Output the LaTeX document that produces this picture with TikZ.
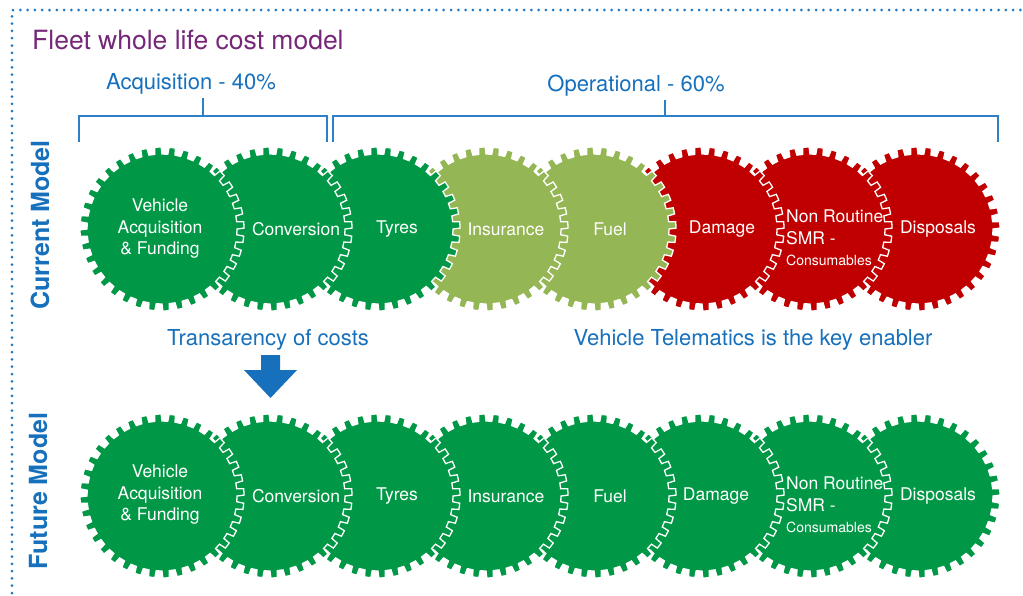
\documentclass[tikz,border=0pt]{standalone}
\usepackage{fontspec}
\setmainfont{TeX Gyre Heros}
\definecolor{gearG}{RGB}{0,152,70}
\definecolor{gearL}{RGB}{149,182,84}
\definecolor{gearR}{RGB}{192,0,0}
\definecolor{txtB}{RGB}{22,112,188}
\definecolor{brkB}{RGB}{45,128,198}
\definecolor{ttlP}{RGB}{118,40,120}
\definecolor{dotB}{RGB}{30,120,195}
\newcommand{\mygear}[3]{%
  \begin{scope}[shift={(#1,#2)}]
    \filldraw[fill=#3, draw=white, line width=1.3pt] (0:75pt)
      \foreach \a in {0,10,...,350} {
        -- (\a+0.6:82pt) arc[start angle=\a+0.6, delta angle=4.4, radius=82pt]
        -- ({\a+5.6}:75pt) arc[start angle=\a+5.6, delta angle=4.4, radius=75pt]
      } -- cycle;
  \end{scope}}
\begin{document}
\begin{tikzpicture}[x=1pt,y=-1pt,
  gtxt/.style={text=white, font=\fontsize{17.5}{21.5}\selectfont, align=center, inner sep=0pt},
  gtxtl/.style={gtxt, align=left, anchor=west},
  btxt/.style={text=txtB, font=\fontsize{22}{26}\selectfont, inner sep=0pt},
  side/.style={text=txtB, font=\fontsize{25}{30}\selectfont\bfseries, rotate=90, inner sep=0pt},
  brk/.style={draw=brkB, line width=1.8pt},
  dotline/.style={draw=dotB, line width=3pt, line cap=round, dash pattern=on 0pt off 7.3pt}]
\useasboundingbox (0,0) rectangle (1023,595);
% border
\draw[dotline] (12,593) -- (12,10) -- (1023,10);
% title
\node[text=ttlP, font=\fontsize{26.5}{30}\selectfont, anchor=west, inner sep=0pt] (title) at (32,40) {Fleet whole life cost model};
% brackets
\node[btxt] (acq) at (191,84) {Acquisition - 40\%};
\node[btxt] (op) at (636,86) {Operational - 60\%};
\draw[brk] (79,142) -- (79,116) -- (327,116) -- (327,142);
\draw[brk] (203,116) -- (203,98);
\draw[brk] (333,142) -- (333,116) -- (998,116) -- (998,142);
\draw[brk] (665,116) -- (665,100);
% side labels
\node[side] (curlab) at (40,225) {Current Model};
\node[side] (futlab) at (38,491) {Future Model};
% current gears (right to left so that left ones lie on top)
\mygear{918}{229}{gearR}
\mygear{810}{229}{gearR}
\mygear{702}{229}{gearR}
\mygear{594}{229}{gearL}
\mygear{486}{229}{gearL}
\mygear{378}{229}{gearG}
\mygear{270}{229}{gearG}
\mygear{162}{229}{gearG}
% future gears
\mygear{918}{496}{gearG}
\mygear{810}{496}{gearG}
\mygear{702}{496}{gearG}
\mygear{594}{496}{gearG}
\mygear{486}{496}{gearG}
\mygear{378}{496}{gearG}
\mygear{270}{496}{gearG}
\mygear{162}{496}{gearG}
% current texts
\node[gtxt] (c1) at (160,229) {Vehicle\\Acquisition\\\& Funding};
\node[gtxt] (c2) at (296,229) {Conversion};
\node[gtxt] (c3) at (397,229) {Tyres};
\node[gtxt] (c4) at (506,229) {Insurance};
\node[gtxt] (c5) at (610,229) {Fuel};
\node[gtxt] (c6) at (722,229) {Damage};
\node[gtxtl] (c7) at (786,238) {Non Routine\\SMR -\\{\fontsize{14}{16}\selectfont Consumables}};
\node[gtxt] (c8) at (938,229) {Disposals};
% future texts
\node[gtxt] (f1) at (160,495) {Vehicle\\Acquisition\\\& Funding};
\node[gtxt] (f2) at (296,496) {Conversion};
\node[gtxt] (f3) at (397,496) {Tyres};
\node[gtxt] (f4) at (506,496) {Insurance};
\node[gtxt] (f5) at (610,496) {Fuel};
\node[gtxt] (f6) at (716,496) {Damage};
\node[gtxtl] (f7) at (786,505) {Non Routine\\SMR -\\{\fontsize{14}{16}\selectfont Consumables}};
\node[gtxt] (f8) at (938,496) {Disposals};
% middle texts and arrow
\node[btxt] (trans) at (268,340) {Transarency of costs};
\node[btxt] (tele) at (753,340) {Vehicle Telematics is the key enabler};
\fill[txtB] (261,355) -- (280,355) -- (280,370) -- (297,370) -- (270.5,398) -- (244,370) -- (261,370) -- cycle;
\end{tikzpicture}
\end{document}
